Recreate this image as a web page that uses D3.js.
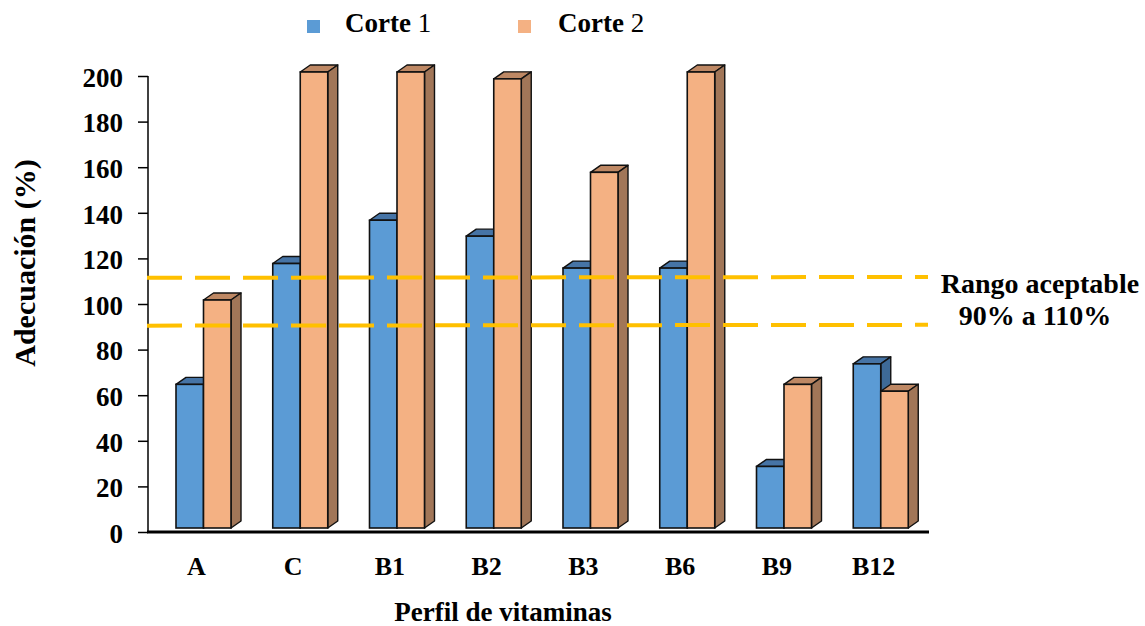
<!DOCTYPE html>
<html>
<head>
<meta charset="utf-8">
<script src="https://cdn.jsdelivr.net/npm/d3@7"></script>
<style>
  html, body { margin: 0; padding: 0; background: #fff; }
  svg { display: block; }
  svg text { font-family: "Liberation Serif", "Times New Roman", Times, "DejaVu Serif", serif; }
</style>
</head>
<body>
<svg id="chart" width="1145" height="626"></svg>
<script>
// Vitamin adequacy (%) per vitamin, two harvest cuts
const categories = ["A", "C", "B1", "B2", "B3", "B6", "B9", "B12"];
const corte1 = [63, 116, 135, 128, 114, 114, 27, 72];
const corte2 = [100, 200, 200, 197, 156, 200, 63, 60];
const seriesNames = ["Corte", "Corte"];
const seriesNums = ["1", "2"];
const yTicks = [0, 20, 40, 60, 80, 100, 120, 140, 160, 180, 200];
const rangeLimits = [111.5, 90.5];   // dashed reference lines (acceptable range)
const rangeLabel = ["Rango aceptable", "90% a 110%"];

const FONT = "'Liberation Serif', 'Times New Roman', Times, 'DejaVu Serif', serif";
const svg = d3.select("#chart");

const x0 = 148, x1 = 922;
const y = d3.scaleLinear().domain([0, 200]).range([532, 76]);
const x = d3.scaleBand().domain(categories).range([x0, x1]).paddingInner(0).paddingOuter(0);

// 3D bar geometry
const barW = 27.5, depthX = 10, depthY = 7, lift = 4, groupOff = 28;
const palettes = [
  { front: "#5B9BD5", top: "#4674A6", side: "#3E6A97" },
  { front: "#F4B183", top: "#BE8864", side: "#A17658" }
];

function drawBar(g, bx, v, pal) {
  const yb = y(0) - lift, yt = y(v) - lift;
  g.append("path")
    .attr("d", `M${bx},${yt} L${bx + depthX},${yt - depthY} L${bx + barW + depthX},${yt - depthY} L${bx + barW},${yt} Z`)
    .attr("fill", pal.top).attr("stroke", "#111").attr("stroke-width", 1.4).attr("stroke-linejoin", "round");
  g.append("path")
    .attr("d", `M${bx + barW},${yt} L${bx + barW + depthX},${yt - depthY} L${bx + barW + depthX},${yb - depthY} L${bx + barW},${yb} Z`)
    .attr("fill", pal.side).attr("stroke", "#111").attr("stroke-width", 1.4).attr("stroke-linejoin", "round");
  g.append("rect")
    .attr("x", bx).attr("y", yt).attr("width", barW).attr("height", yb - yt)
    .attr("fill", pal.front).attr("stroke", "#111").attr("stroke-width", 1.6);
}

const bars = svg.append("g");
categories.forEach((c, i) => {
  const bx = x(c) + groupOff;
  drawBar(bars, bx, corte1[i], palettes[0]);
  drawBar(bars, bx + barW, corte2[i], palettes[1]);
});

// Y axis
const yAxis = svg.append("g").attr("transform", `translate(${x0},0)`)
  .call(d3.axisLeft(y).tickValues(yTicks).tickSize(10).tickPadding(15))
  .attr("font-family", FONT);
yAxis.select(".domain").attr("stroke", "#000").attr("stroke-width", 1.5).attr("d", `M0,${y(200)}V${y(0)}`);
yAxis.selectAll(".tick line").attr("stroke", "#000").attr("stroke-width", 1.5);
yAxis.selectAll(".tick text")
  .attr("fill", "#000").attr("font-size", 27).attr("font-weight", "bold")
  .attr("font-family", FONT).attr("dy", "0.38em");

// X axis baseline
svg.append("line").attr("x1", x0 - 1).attr("x2", 929).attr("y1", y(0)).attr("y2", y(0))
  .attr("stroke", "#000").attr("stroke-width", 3.2);

// Category labels
svg.append("g").selectAll("text").data(categories).join("text")
  .attr("x", d => x(d) + x.bandwidth() / 2).attr("y", 575)
  .attr("text-anchor", "middle").attr("font-size", 26).attr("font-weight", "bold")
  .attr("font-family", FONT)
  .text(d => d);

// Acceptable range lines
svg.append("g").selectAll("line").data(rangeLimits).join("line")
  .attr("x1", x0 - 1).attr("x2", 928)
  .attr("y1", d => y(d)).attr("y2", d => y(d) - 0.8)
  .attr("stroke", "#FFC000").attr("stroke-width", 4).attr("stroke-dasharray", "35,13");

svg.append("g").selectAll("text").data(rangeLabel).join("text")
  .attr("x", (d, i) => i === 0 ? 1040 : 1035).attr("y", (d, i) => i === 0 ? 293 : 325)
  .attr("text-anchor", "middle").attr("font-size", 28).attr("font-weight", "bold")
  .attr("font-family", FONT)
  .text(d => d);

// Axis titles
svg.append("text").attr("x", 503).attr("y", 621).attr("text-anchor", "middle")
  .attr("font-family", FONT)
  .attr("font-size", 27).attr("font-weight", "bold").text("Perfil de vitaminas");
svg.append("text").attr("transform", "translate(35,263) rotate(-90)").attr("text-anchor", "middle")
  .attr("font-family", FONT)
  .attr("font-size", 30).attr("font-weight", "bold").text("Adecuación (%)");

// Legend
const legendX = [307, 518], textX = [345, 558];
const legend = svg.append("g");
[0, 1].forEach(i => {
  legend.append("rect").attr("x", legendX[i]).attr("y", 20).attr("width", 13).attr("height", 13)
    .attr("fill", palettes[i].front);
  const t = legend.append("text").attr("x", textX[i]).attr("y", 32).attr("font-size", 27)
    .attr("font-family", FONT);
  t.append("tspan").attr("font-weight", "bold").text(seriesNames[i] + " ");
  t.append("tspan").attr("font-weight", "normal").text(seriesNums[i]);
});
</script>
</body>
</html>
